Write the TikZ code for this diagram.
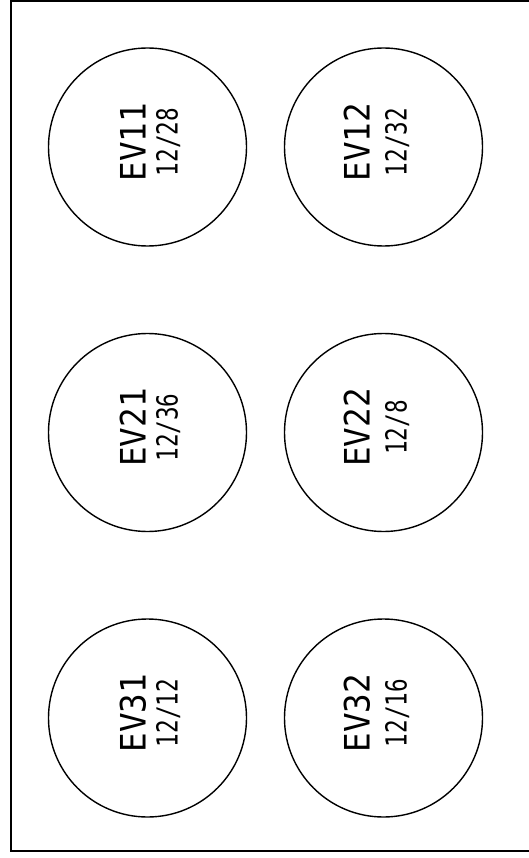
\documentclass[tikz,border=0pt]{standalone}
\usepackage{fontspec}
\newfontfamily\evfont{DejaVu Sans Mono}

\begin{document}
\begin{tikzpicture}[x=1pt,y=-1pt,
    valve/.style={circle,draw,line width=1.4pt,minimum size=198pt,inner sep=0pt},
    evname/.style={rotate=90,anchor=base,inner sep=0pt,font=\evfont\fontsize{35}{36}\selectfont},
    evratio/.style={rotate=90,anchor=base,inner sep=0pt,font=\evfont\fontsize{29}{30}\selectfont}]
    \useasboundingbox (0,0) rectangle (528,858);
    \draw[line width=1.6pt] (11,1) rectangle (540,851);
    % valves: row/column/offsets of the two text lines/ratio
    \foreach \r/\c/\da/\db/\num/\den in {1/1/-2/30/12/28, 1/2/-14/23/12/32,
                                         2/1/-2/30/12/36, 2/2/-14/23/12/8,
                                         3/1/-2/30/12/12, 3/2/-14/23/12/16}{
        \node[valve] (ev\r\c) at ({147.5+236*(\c-1)},{147+285.5*(\r-1)}) {};
        \node[evname] (name\r\c) at ([xshift=\da pt,yshift=5pt]ev\r\c.center) {\scalebox{0.93}[1]{EV\r\c}};
        \node[evratio] (ratio\r\c) at ([xshift=\db pt,yshift=5pt]ev\r\c.center) {\scalebox{0.78}[1]{\num/\den}};
    }
\end{tikzpicture}
\end{document}
